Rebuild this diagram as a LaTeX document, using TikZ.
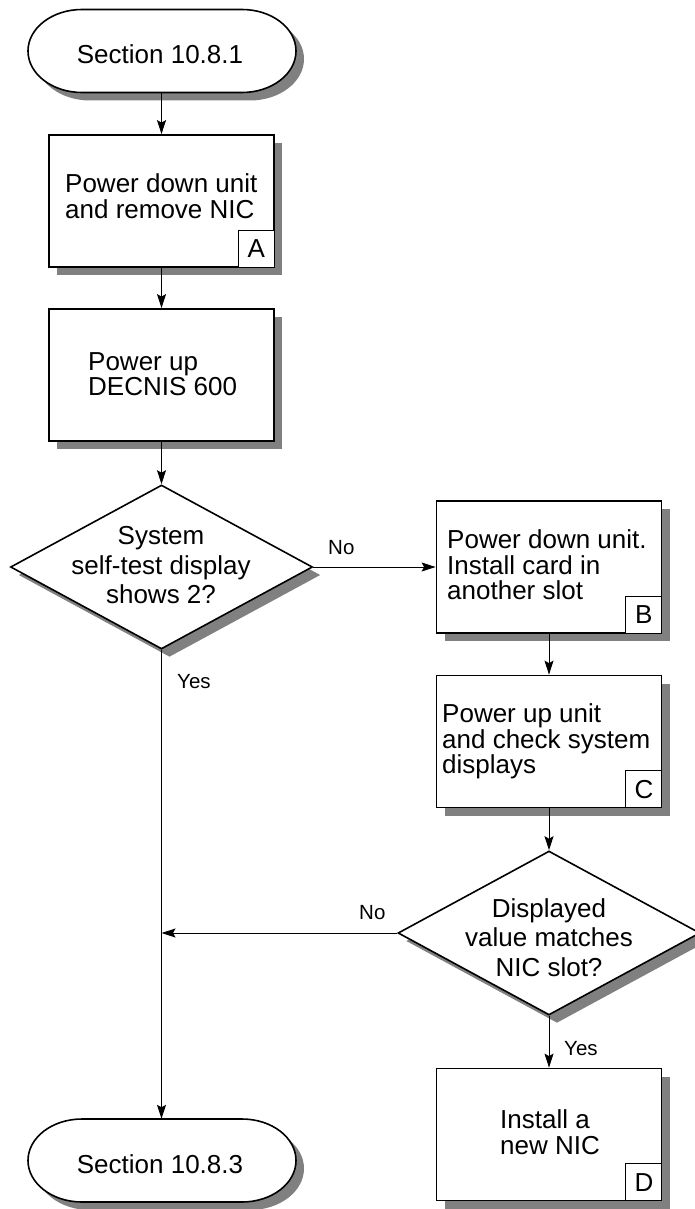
\documentclass[tikz,border=0pt]{standalone}
\usepackage{fontspec}
\setmainfont{Liberation Sans}
\usetikzlibrary{arrows.meta,shapes.geometric,shadows,calc}
\definecolor{shadec}{RGB}{128,128,128}
\newcommand\termpath[2]{(#1-80,#2-41.5) -- (#1+80,#2-41.5) arc[start angle=90,end angle=-90,x radius=54pt,y radius=41.5pt] -- (#1-80,#2+41.5) arc[start angle=270,end angle=90,x radius=54pt,y radius=41.5pt] -- cycle}
\begin{document}
\begin{tikzpicture}[x=1pt,y=-1pt,
  shdw/.style={drop shadow={shadow xshift=8pt,shadow yshift=-8pt,opacity=1,fill=shadec}},
  procbox/.style={draw,line width=1.8pt,fill=white,minimum width=225pt,minimum height=132pt,inner sep=0pt,shdw},
  decbox/.style={diamond,draw,line width=1.6pt,fill=white,minimum width=302pt,minimum height=164pt,inner sep=0pt,shdw},
  termnode/.style={minimum width=268pt,minimum height=83pt,inner sep=0pt},
  termline/.style={draw,line width=1.6pt,fill=white},
  lblbox/.style={draw,line width=1pt,fill=white,minimum width=36pt,minimum height=37pt,inner sep=0pt,font=\fontsize{26}{26}\selectfont},
  txt/.style={inner sep=0pt,font=\fontsize{26}{26}\selectfont},
  small/.style={inner sep=0pt,font=\fontsize{20.5}{20.5}\selectfont},
  conn/.style={line width=1pt,-{Stealth[length=14pt,width=9pt,inset=2.5pt]}}]
\useasboundingbox (0,0) rectangle (695,1209);

% terminals
\fill[shadec] [shift={(8,8)}] \termpath{162}{51};
\path[termline] \termpath{162}{51};
\node[termnode] (t1) at (161.5,51) {};
\node[txt,anchor=base] (t1t) at (160,64) {Section 10.8.1};

\fill[shadec] [shift={(8,8)}] \termpath{162}{1160.5};
\path[termline] \termpath{162}{1160.5};
\node[termnode] (t2) at (161.5,1160.5) {};
\node[txt,anchor=base] (t2t) at (160,1173) {Section 10.8.3};

% process boxes
\node[procbox] (A) at (161.5,201) {};
\node[lblbox,anchor=south east] (lA) at (A.south east) {A};
\node[txt,anchor=base west] (A1) at (65,193) {Power down unit};
\node[txt,anchor=base west] (A2) at (65,218) {and remove NIC};

\node[procbox] (P) at (161.5,375) {};
\node[txt,anchor=base west] (P1) at (88,370) {Power up};
\node[txt,anchor=base west] (P2) at (88,395) {DECNIS 600};

\node[procbox] (B) at (549,567) {};
\node[lblbox,anchor=south east] (lB) at (B.south east) {B};
\node[txt,anchor=base west] (B1) at (447,548) {Power down unit.};
\node[txt,anchor=base west] (B2) at (447,574) {Install card in};
\node[txt,anchor=base west] (B3) at (447,599) {another slot};

\node[procbox] (C) at (549,741.5) {};
\node[lblbox,anchor=south east] (lC) at (C.south east) {C};
\node[txt,anchor=base west] (C1) at (442,722) {Power up unit};
\node[txt,anchor=base west] (C2) at (442,748) {and check system};
\node[txt,anchor=base west] (C3) at (442,773) {displays};

\node[procbox] (D) at (549,1134.5) {};
\node[lblbox,anchor=south east] (lD) at (D.south east) {D};
\node[txt,anchor=base west] (D1) at (500,1128) {Install a};
\node[txt,anchor=base west] (D2) at (500,1154) {new NIC};

% decisions
\node[decbox] (d1) at (161.5,567) {};
\node[txt,anchor=base] (d1a) at (161,544) {System};
\node[txt,anchor=base] (d1b) at (161,574) {self-test display};
\node[txt,anchor=base] (d1c) at (161,603) {shows 2?};

\node[decbox] (d2) at (549,933) {};
\node[txt,anchor=base] (d2a) at (549,917) {Displayed};
\node[txt,anchor=base] (d2b) at (549,946) {value matches};
\node[txt,anchor=base] (d2c) at (549,976) {NIC slot?};

\coordinate (j) at (161.5,933);

% connectors
\draw[conn] (t1) -- (A);
\draw[conn] (A) -- (P);
\draw[conn] (P) -- (d1.north);
\draw[conn] (d1.east) -- (B.west);
\draw[conn] (B) -- (C);
\draw[conn] (C) -- (d2.north);
\draw[conn] (d1.south) -- (t2.north);
\draw[conn] (d2.west) -- (j);
\draw[conn] (d2.south) -- (D.north);

% branch labels
\node[small,anchor=base west] (no1) at (328,554) {No};
\node[small,anchor=base west] (yes1) at (177,688) {Yes};
\node[small,anchor=base west] (no2) at (359,919) {No};
\node[small,anchor=base west] (yes2) at (564,1055) {Yes};
\end{tikzpicture}
\end{document}
